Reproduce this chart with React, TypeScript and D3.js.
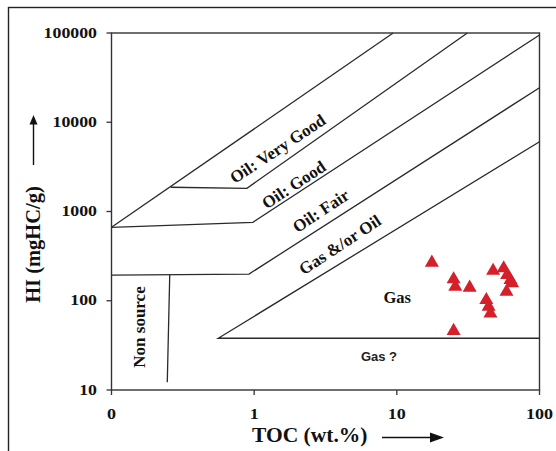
import React from "react";
import * as d3 from "d3";

// ---- Axis ticks ----
const tocTicks = [0.1, 1, 10, 100];
const tocTickLabels = ["0", "1", "10", "100"];
const hiTicks = [10, 100, 1000, 10000, 100000];
const hiTickLabels = ["10", "100", "1000", "10000", "100000"];

// ---- Samples (TOC wt.%, HI mgHC/g) ----
const sampleTOC = [17.6, 25.0, 25.7, 32.4, 47.3, 56.1, 59.3, 62.6, 64.3, 58.7, 42.4, 44.0, 45.3, 25.0];
const sampleHI = [267, 174, 144, 140, 217, 231, 194, 171, 157, 126, 102, 86, 72, 46];

// ---- Field boundaries [TOC, HI] ----
const veryGoodUpper: [number, number][] = [[0.1, 665], [9.42, 100000]];
const veryGoodLower: [number, number][] = [[0.26, 1870], [0.89, 1820], [31.2, 100000]];
const goodLower: [number, number][] = [[0.1, 665], [0.98, 757], [100, 95000]];
const fairLower: [number, number][] = [[0.1, 194], [0.92, 199], [100, 24400]];
const gasOilLower: [number, number][] = [[100, 38], [0.56, 38], [100, 6056]];
const nonSourceLine: [number, number][] = [[0.256, 194], [0.246, 12.2]];

// ---- Field labels ----
const fieldNames = ["Oil: Very Good", "Oil: Good", "Oil: Fair", "Gas &/or Oil", "Gas", "Gas ?", "Non source"];
const fieldTOC = [1.466, 1.9, 2.94, 4.0, 10.06, 7.5, 0.157];
const fieldHI = [5012, 1982, 1013, 421, 108.7, 23.6, 50.8];

const SERIF = "'Liberation Serif', 'Times New Roman', serif";
const SANS = "'Liberation Sans', Arial, sans-serif";

export default function App() {
  const x = d3.scaleLog().domain([0.1, 100]).range([111.5, 539.5]);
  const y = d3.scaleLog().domain([10, 100000]).range([390, 33]);
  const line = d3
    .line<[number, number]>()
    .x((d) => x(d[0]))
    .y((d) => y(d[1]));
  const tri = d3.symbol().type(d3.symbolTriangle).size(85)();

  const boundaries = [veryGoodUpper, veryGoodLower, goodLower, fairLower, gasOilLower, nonSourceLine];
  const angle = -33.5;

  const labelStyle = (i: number) => {
    const name = fieldNames[i];
    const px = x(fieldTOC[i]);
    const py = y(fieldHI[i]);
    if (name === "Gas ?") {
      return (
        <text key={i} x={px} y={py} textAnchor="middle" dominantBaseline="central"
          fontFamily={SANS} fontWeight="bold" fontSize={13} fill="#222">{name}</text>
      );
    }
    if (name === "Gas") {
      return (
        <text key={i} x={px} y={py} textAnchor="middle" dominantBaseline="central"
          fontFamily={SERIF} fontWeight="bold" fontSize={16.5} fill="#111">{name}</text>
      );
    }
    if (name === "Non source") {
      return (
        <text key={i} transform={`translate(${px},${py}) rotate(-90)`} textAnchor="middle"
          dominantBaseline="central" fontFamily={SERIF} fontWeight="bold" fontSize={17} fill="#111">{name}</text>
      );
    }
    return (
      <text key={i} transform={`translate(${px},${py}) rotate(${angle})`} textAnchor="middle"
        dominantBaseline="central" fontFamily={SERIF} fontWeight="bold" fontSize={17} fill="#111">{name}</text>
    );
  };

  return (
    <svg width={556} height={451} style={{ position: "absolute", left: 0, top: 0, background: "#fff" }}>
      <rect x={0} y={0} width={556} height={451} fill="#fff" />
      {/* outer frame */}
      <rect x={8.5} y={7.5} width={600} height={500} fill="none" stroke="#222" strokeWidth={1.4} />

      {/* plot frame */}
      <rect x={x(0.1)} y={y(100000)} width={x(100) - x(0.1)} height={y(10) - y(100000)}
        fill="none" stroke="#333" strokeWidth={1.4} />

      {/* y ticks */}
      {hiTicks.map((t, i) => (
        <g key={t}>
          <line x1={x(0.1) - 5} x2={x(0.1)} y1={y(t)} y2={y(t)} stroke="#333" strokeWidth={1.3} />
          <text x={97} y={y(t) + 4.6} textAnchor="end" fontFamily={SERIF} fontWeight="bold" fontSize={14.5}
            fill="#111" textLength={hiTickLabels[i].length * 8.9} lengthAdjust="spacingAndGlyphs">
            {hiTickLabels[i]}
          </text>
        </g>
      ))}

      {/* x ticks */}
      {tocTicks.map((t, i) => (
        <g key={t}>
          <line x1={x(t)} x2={x(t)} y1={y(10)} y2={y(10) + 5} stroke="#333" strokeWidth={1.3} />
          <text x={x(t)} y={418.5} textAnchor="middle" fontFamily={SERIF} fontWeight="bold" fontSize={14.5}
            fill="#111" textLength={tocTickLabels[i].length * 9} lengthAdjust="spacingAndGlyphs">
            {tocTickLabels[i]}
          </text>
        </g>
      ))}

      {/* boundaries */}
      {boundaries.map((b, i) => (
        <path key={i} d={line(b) || ""} fill="none" stroke="#2a2a2a" strokeWidth={1.3} />
      ))}

      {/* field labels */}
      {fieldNames.map((_, i) => labelStyle(i))}

      {/* samples */}
      {sampleTOC.map((t, i) => (
        <path key={i} d={tri || ""} transform={`translate(${x(t)},${y(sampleHI[i])})`} fill="#d3202a" />
      ))}

      {/* axis titles */}
      <text x={252} y={442} fontFamily={SERIF} fontWeight="bold" fontSize={21.5} fill="#111">TOC (wt.%)</text>
      <line x1={382} x2={431} y1={437.5} y2={437.5} stroke="#111" strokeWidth={1.4} />
      <polygon points="444,437.5 430,432.5 430,442.5" fill="#111" />

      <text transform="translate(39.5,244.5) rotate(-90)" textAnchor="middle" fontFamily={SERIF}
        fontWeight="bold" fontSize={20.5} fill="#111">HI (mgHC/g)</text>
      <line x1={33.5} x2={33.5} y1={165} y2={123} stroke="#111" strokeWidth={1.4} />
      <polygon points="33.5,115 29.5,124.5 37.5,124.5" fill="#111" />
    </svg>
  );
}
